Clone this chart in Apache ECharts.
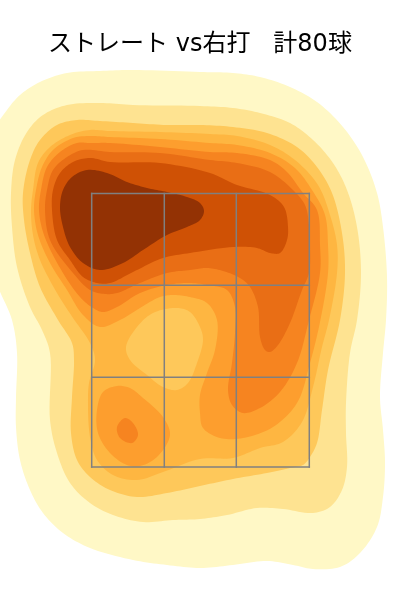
<!DOCTYPE html>
<html>
<head>
<meta charset="utf-8">
<style>html,body{margin:0;padding:0;background:#fff}#c{width:400px;height:600px}</style>
<script src="https://cdn.jsdelivr.net/npm/echarts@6/dist/echarts.min.js"></script>
</head>
<body>
<div id="c"></div>
<script>
const titleText = 'ストレート vs右打   計80球';
const levelColors = ['#fff8c6','#fee391','#fec85a','#feb641','#fd9e2e','#f68420','#e96e15','#cf5105','#933204'];
const zoneX = [91.7,164.3,236.3,309.3];
const zoneY = [193.5,285.2,377.3,466.9];

const level1 = [[133,70],[100,71],[67,73],[40,82],[20,95],[7,110],[-5,130],[-12,200],[-5,277],[12,320],[17,353],[16,397],[16,427],[20,460],[30,490],[43,513],[63,533],[90,548],[133,560],[167,565],[200,568],[233,565],[267,561],[293,565],[313,569],[340,567],[360,553],[377,527],[383,497],[385,463],[383,430],[380,397],[383,353],[386,320],[387,277],[383,227],[377,193],[363,157],[343,127],[317,102],[290,87],[260,77],[233,73],[200,72]];
const level2 = [[133,105],[100,103],[67,105],[43,115],[27,132],[15,160],[11,193],[12,227],[17,267],[30,307],[42,330],[50,353],[50,420],[57,453],[70,483],[90,503],[113,515],[143,522],[173,520],[200,519],[227,515],[257,508],[283,509],[313,513],[330,507],[342,490],[347,467],[346,433],[346,403],[350,353],[357,320],[361,273],[357,227],[347,190],[333,163],[313,140],[290,123],[260,113],[233,108],[200,106]];
const level3 = [[133,123],[100,121],[77,120],[57,125],[40,140],[30,160],[23,193],[24,220],[30,253],[40,287],[58,320],[72,343],[74,360],[72,397],[71,433],[77,460],[90,477],[110,490],[137,497],[167,493],[200,486],[233,479],[267,473],[290,468],[303,465],[310,457],[317,443],[322,410],[328,370],[340,320],[345,273],[342,233],[332,193],[317,167],[297,147],[267,133],[233,127],[200,125],[167,125]];
const level4 = [[110,131],[90,130],[70,135],[50,147],[38,163],[33,190],[31,210],[33,235],[40,260],[57,293],[73,318],[90,343],[95,360],[89,383],[88,403],[90,437],[97,460],[113,475],[137,480],[163,472],[200,459],[233,458],[260,448],[283,442],[302,422],[313,387],[322,347],[329,320],[337,273],[337,245],[330,215],[318,185],[295,160],[270,145],[237,136],[210,134],[160,132]];
const hole3 = [[177,308],[153,313],[137,327],[126,347],[130,360],[147,375],[163,387],[177,390],[188,383],[197,363],[203,340],[200,327],[190,312]];
const level5 = [[110,137],[90,136],[73,138],[53,150],[42,167],[36,190],[34,210],[38,235],[50,263],[67,290],[83,315],[100,327],[120,320],[140,308],[160,297],[173,295],[190,297],[207,303],[217,320],[215,350],[207,373],[200,395],[200,413],[203,428],[220,438],[243,438],[273,427],[297,403],[310,363],[320,322],[328,273],[328,245],[325,215],[312,190],[295,168],[270,153],[237,145],[210,143],[160,139]];
const island5 = [[117,386],[103,392],[97,410],[98,433],[110,453],[127,465],[140,466],[157,457],[170,435],[163,417],[143,398],[130,388]];
const island6 = [[125,418],[117,427],[120,438],[132,443],[138,435],[133,423]];
const level6 = [[110,143],[90,143],[77,143],[60,152],[47,167],[41,190],[39,210],[44,235],[63,273],[80,297],[93,308],[103,312],[117,307],[140,293],[167,285],[190,283],[207,285],[227,290],[235,307],[235,333],[232,363],[228,390],[232,405],[243,413],[260,408],[280,392],[297,363],[309,320],[320,273],[320,245],[317,210],[303,193],[287,172],[270,160],[237,153],[210,152],[160,147]];
const level7 = [[110,152],[83,150],[67,157],[53,170],[47,190],[45,210],[50,240],[73,273],[90,290],[105,294],[117,293],[140,283],[167,273],[190,270],[207,268],[223,271],[240,278],[250,287],[258,307],[260,337],[265,350],[270,352],[278,345],[290,323],[302,290],[309,273],[310,247],[309,225],[305,205],[293,190],[270,172],[237,163],[210,160],[160,153]];
const level8 = [[110,162],[90,158],[73,162],[60,173],[53,190],[52,210],[57,240],[70,260],[83,277],[97,283],[110,283],[133,272],[163,258],[190,253],[233,247],[257,248],[270,253],[280,253],[287,240],[288,227],[284,207],[270,195],[237,185],[210,173],[160,163]];
const level9 = [[60,207],[63,190],[72,177],[87,170],[107,173],[127,182],[147,188],[167,192],[187,197],[200,203],[204,211],[200,220],[187,227],[167,235],[143,250],[123,263],[100,270],[83,263],[70,247],[63,227]];

const layers = [
  {level:0, pts:level1},{level:1, pts:level2},{level:2, pts:level3},{level:3, pts:level4},
  {level:2, pts:hole3},{level:4, pts:level5},{level:4, pts:island5},{level:5, pts:level6},
  {level:5, pts:island6},{level:6, pts:level7},{level:7, pts:level8},{level:8, pts:level9}
];

const zoneSegments = [];
zoneX.forEach(x => zoneSegments.push([x, zoneY[0], x, zoneY[3]]));
zoneY.forEach(y => zoneSegments.push([zoneX[0], y, zoneX[3], y]));

// Round the outline for drawing only: a closed centripetal Catmull-Rom curve through the read points.
function roundOutline(pts){
  const n=pts.length, out=[], steps=10;
  const knot=(a,b)=>Math.pow(Math.hypot(b[0]-a[0],b[1]-a[1]),0.5)||1e-3;
  for(let i=0;i<n;i++){
    const p0=pts[(i-1+n)%n],p1=pts[i],p2=pts[(i+1)%n],p3=pts[(i+2)%n];
    const d1=knot(p0,p1),d2=knot(p1,p2),d3=knot(p2,p3);
    for(let s=0;s<steps;s++){
      const t=s/steps,q=[];
      for(let k=0;k<2;k++){
        const m1=(p1[k]-p0[k])/d1-(p2[k]-p0[k])/(d1+d2)+(p2[k]-p1[k])/d2;
        const m2=(p2[k]-p1[k])/d2-(p3[k]-p1[k])/(d2+d3)+(p3[k]-p2[k])/d3;
        const a=m1*d2,b=m2*d2,t2=t*t,t3=t2*t;
        q[k]=(2*t3-3*t2+1)*p1[k]+(t3-2*t2+t)*a+(-2*t3+3*t2)*p2[k]+(t3-t2)*b;
      }
      out.push(q);
    }
  }
  return out;
}

const chart = echarts.init(document.getElementById('c'), null, {renderer:'canvas'});
chart.setOption({
  animation:false,
  backgroundColor:'#fff',
  title:{text:titleText,left:'center',top:28,textStyle:{fontFamily:'"DejaVu Sans","Noto Sans CJK JP"',fontSize:24,fontWeight:'normal',color:'#000'}},
  grid:{left:0,right:0,top:0,bottom:0},
  xAxis:{type:'value',min:0,max:400,show:false},
  yAxis:{type:'value',min:0,max:600,inverse:true,show:false},
  series:[
    {type:'custom',coordinateSystem:'cartesian2d',silent:true,clip:true,z:1,
     data:layers.map((l,i)=>[i]),
     renderItem:(p,api)=>{
       const l=layers[api.value(0)];
       return {type:'polygon',shape:{points:roundOutline(l.pts.map(q=>api.coord(q)))},style:{fill:levelColors[l.level],stroke:null}};
     }},
    {type:'custom',coordinateSystem:'cartesian2d',silent:true,clip:false,z:2,
     data:zoneSegments,
     renderItem:(p,api)=>{
       const a=api.coord([api.value(0),api.value(1)]),b=api.coord([api.value(2),api.value(3)]);
       return {type:'line',shape:{x1:a[0],y1:a[1],x2:b[0],y2:b[1]},style:{stroke:'#808080',lineWidth:1.5,lineCap:'square'}};
     }}
  ]
});
</script>
</body>
</html>
